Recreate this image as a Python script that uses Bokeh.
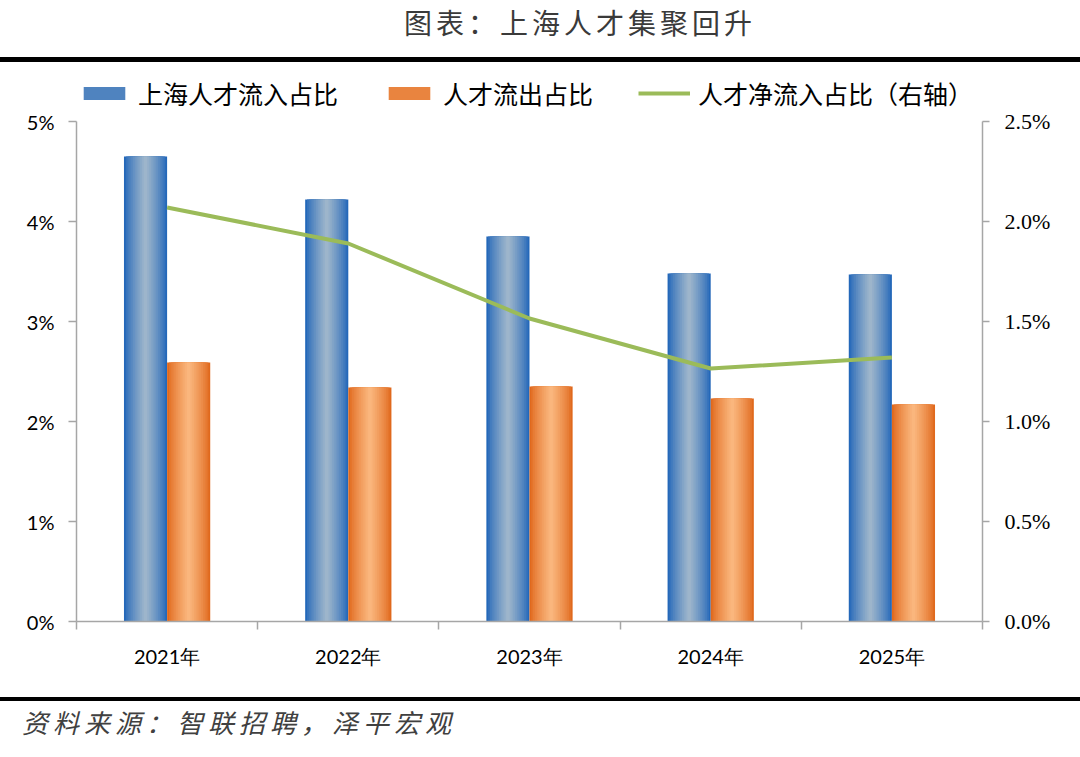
from bokeh.plotting import figure
from bokeh.models import (Range1d, FactorRange, LinearAxis, FixedTicker, PrintfTickFormatter,
                          Legend, LegendItem, ColumnDataSource, Div)
from bokeh.layouts import column
from bokeh.transform import dodge
from bokeh.embed import file_html
from bokeh.resources import INLINE

years = ["2021年", "2022年", "2023年", "2024年", "2025年"]
inflow = [4.65, 4.22, 3.85, 3.48, 3.47]      # 上海人才流入占比 (%)
outflow = [2.59, 2.34, 2.35, 2.23, 2.17]     # 人才流出占比 (%)
net = [2.07, 1.89, 1.515, 1.265, 1.32]       # 人才净流入占比 (%), right axis
left_ticks = [0, 1, 2, 3, 4, 5]
right_ticks = [0.0, 0.5, 1.0, 1.5, 2.0, 2.5]
title_text = "图表：上海人才集聚回升"
source_text = "资料来源：智联招聘，泽平宏观"

W = 1080
CJK = "Noto Sans CJK SC"
TOP_H, MAIN_H, BOT_H = 62, 635, 60          # page rows: 0-62, 62-697, 697-757
FL, FR = 76, 982                            # frame left/right (page px)
FT, FB = 72, 621                            # frame top/bottom (page px); 5% sits at 121
Y0, Y1 = 0, 5
Y_TOP = Y1 + (121 - FT) / ((FB - 121) / (Y1 - Y0))   # extra headroom for the legend
R1 = 2.5
LEG_BOTTOM = 111                            # page y of the legend's lower edge

top_div = Div(width=W, height=TOP_H, margin=0, text=(
    f'<div style="position:relative;width:{W}px;height:{TOP_H}px;overflow:hidden;background:#fff">'
    f'<div style="position:absolute;left:0;top:3px;width:1160px;text-align:center;white-space:nowrap;'
    f'font-family:\'{CJK}\';font-size:28px;line-height:38px;letter-spacing:4px;color:#3a3a3a">{title_text}</div>'
    f'<div style="position:absolute;left:0;top:57px;width:{W}px;height:5px;background:#000"></div></div>'))

bot_div = Div(width=W, height=BOT_H, margin=0, text=(
    f'<div style="position:relative;width:{W}px;height:{BOT_H}px;overflow:hidden;background:#fff">'
    f'<div style="position:absolute;left:0;top:0;width:{W}px;height:4px;background:#000"></div>'
    f'<div style="position:absolute;left:22px;top:7px;white-space:nowrap;font-family:\'{CJK}\';'
    f'font-style:italic;font-size:26px;line-height:36px;letter-spacing:5px;color:#404040">{source_text}</div></div>'))

src = ColumnDataSource(dict(year=years, inflow=inflow, outflow=outflow, net=net))

p = figure(width=W, height=MAIN_H, output_backend="svg", toolbar_location=None,
           x_range=FactorRange(*years), y_range=Range1d(Y0, Y_TOP),
           x_axis_location=None, y_axis_location=None,
           min_border_left=FL, min_border_right=W - FR, min_border_top=FT - TOP_H,
           min_border_bottom=TOP_H + MAIN_H - FB)
p.outline_line_color = None
p.xgrid.visible = False
p.ygrid.visible = False
p.background_fill_color = "white"
p.border_fill_color = "white"
p.extra_y_ranges = {"right": Range1d(0, R1 * Y_TOP / Y1)}

axis_col = "#A6A6A6"
centers = [i + 0.5 for i in range(len(years))]
bounds = list(range(len(years) + 1))
xa = LinearAxis(ticker=FixedTicker(ticks=centers, minor_ticks=bounds),
                major_label_overrides={c: y for c, y in zip(centers, years)},
                axis_line_color=axis_col, axis_line_width=1.5,
                major_tick_line_color=None, major_tick_out=8, major_tick_in=0,
                minor_tick_line_color=axis_col, minor_tick_line_width=1.5,
                minor_tick_out=8, minor_tick_in=0,
                major_label_text_font="Lato", major_label_text_font_size="20px",
                major_label_text_color="#000000", major_label_standoff=14)
p.add_layout(xa, "below")

yl = LinearAxis(ticker=FixedTicker(ticks=left_ticks), formatter=PrintfTickFormatter(format="%d%%"),
                bounds=(Y0, Y1),
                axis_line_color=axis_col, major_tick_line_color=axis_col, major_tick_out=8,
                major_tick_in=0, minor_tick_line_color=None, major_label_standoff=14,
                major_label_text_font="Lato", major_label_text_font_size="20px",
                major_label_text_color="#000000", axis_line_width=1.5, major_tick_line_width=1.5)
p.add_layout(yl, "left")
yr = LinearAxis(y_range_name="right", ticker=FixedTicker(ticks=right_ticks),
                formatter=PrintfTickFormatter(format="%.1f%%"), bounds=(0, R1),
                axis_line_color=axis_col, major_tick_line_color=axis_col, major_tick_out=7,
                major_tick_in=0, minor_tick_line_color=None, major_label_standoff=15,
                major_label_text_font="Liberation Serif", major_label_text_font_size="22px",
                major_label_text_color="#000000", axis_line_width=1.5, major_tick_line_width=1.5)
p.add_layout(yr, "right")

BW = 0.238
N = 12

def lerp(c1, c2, t):
    a = [int(c1[i:i + 2], 16) for i in (1, 3, 5)]
    b = [int(c2[i:i + 2], 16) for i in (1, 3, 5)]
    return "#%02x%02x%02x" % tuple(round(a[j] + (b[j] - a[j]) * t) for j in range(3))

blue_edge, blue_mid = "#2468B9", "#9DB5CB"
org_edge, org_mid = "#E0691D", "#FAB67D"

blue_r, org_r = [], []
for k in range(N):
    f = 1 - k / N
    t = (k / (N - 1)) ** 0.8
    blue_r.append(p.vbar(x=dodge("year", -BW / 2, range=p.x_range), top="inflow", width=BW * f,
                         source=src, fill_color=lerp(blue_edge, blue_mid, t), line_color=None))
    org_r.append(p.vbar(x=dodge("year", BW / 2, range=p.x_range), top="outflow", width=BW * f,
                        source=src, fill_color=lerp(org_edge, org_mid, t), line_color=None))

ln = p.line(x="year", y="net", source=src, y_range_name="right", line_color="#9BBB59", line_width=4)

legend = Legend(items=[LegendItem(label="上海人才流入占比", renderers=[blue_r[3]]),
                       LegendItem(label="人才流出占比", renderers=[org_r[3]]),
                       LegendItem(label="人才净流入占比（右轴）", renderers=[ln])],
                orientation="horizontal", location=(2, FB - LEG_BOTTOM),
                glyph_width=52, glyph_height=16, label_standoff=8, spacing=45,
                label_text_font=CJK, label_text_font_size="25px",
                label_text_color="#000000", border_line_color=None, background_fill_alpha=0,
                padding=0, margin=0)
p.add_layout(legend, "center")

layout = column(top_div, p, bot_div, spacing=0)
open("out.html", "w").write(file_html(layout, INLINE))
